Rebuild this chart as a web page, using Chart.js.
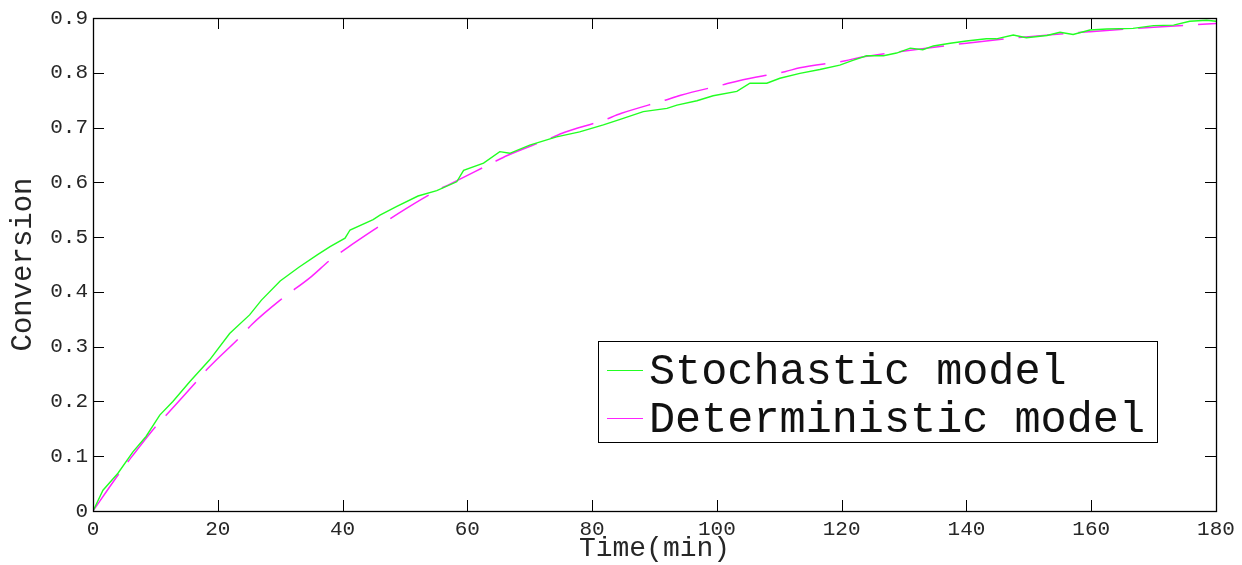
<!DOCTYPE html>
<html>
<head>
<meta charset="utf-8">
<script src="https://cdn.jsdelivr.net/npm/chart.js@4/dist/chart.umd.min.js"></script>
<style>
  html, body { margin: 0; padding: 0; background: #fff; }
  #wrap { width: 1242px; height: 565px; position: relative; }
</style>
</head>
<body>
<div id="wrap"><canvas id="c" width="1242" height="565"></canvas></div>
<script>
// ---- data ----
const stochT = [0,1.6,4,6.4,8.5,10.7,12.8,15.5,18.7,21.9,25.1,27,30,33,36,38,40.4,41.2,44.9,46,48.7,52.1,55.1,58.3,59.4,62.6,65.2,66.8,70,74.3,78,81.8,84.5,88.2,92,93.6,96.8,99.4,103.2,105.3,108,110.1,113.3,116.5,119.7,121.9,124,126.7,128.8,131,133,134.7,137.4,140,143.2,144.8,147.5,149.6,152.9,155,157.1,159.8,162.5,166.7,170,173.2,175.8,178.5,180];
const stochX = [0,0.038,0.069,0.108,0.136,0.175,0.2,0.236,0.276,0.324,0.358,0.385,0.42,0.445,0.468,0.4825,0.498,0.513,0.532,0.54,0.556,0.575,0.585,0.601,0.622,0.635,0.656,0.653,0.668,0.683,0.692,0.705,0.715,0.729,0.735,0.741,0.749,0.758,0.766,0.781,0.781,0.79,0.799,0.806,0.814,0.823,0.831,0.831,0.836,0.845,0.842,0.849,0.854,0.858,0.862,0.862,0.869,0.864,0.868,0.874,0.87,0.878,0.88,0.881,0.886,0.887,0.894,0.896,0.894];

const detT = [0,4.1,5.6,10.1,11.9,16.8,18.4,23.7,25.5,30,35,38,40.8,46.8,48.9,55.1,56.9,64.1,66.4,73,75.5,81.5,84.7,91.7,94.2,101.3,103.7,110.9,113.3,120.6,122.9,130.4,140,150,159.8,170,180];
const detX = [0,0.067,0.09,0.155,0.177,0.239,0.26,0.319,0.341,0.385,0.428,0.458,0.481,0.527,0.543,0.585,0.595,0.636,0.649,0.679,0.691,0.712,0.726,0.75,0.759,0.779,0.786,0.802,0.809,0.822,0.828,0.84,0.854,0.866,0.875,0.883,0.89];

const xTickLabels = ['0','20','40','60','80','100','120','140','160','180'];
const yTickLabels = ['0','0.1','0.2','0.3','0.4','0.5','0.6','0.7','0.8','0.9'];
const seriesNames = ['Stochastic model','Deterministic model'];
const xTitle = 'Time(min)';
const yTitle = 'Conversion';

const FONT = '"Liberation Mono", "Courier New", monospace';
const TXT = '#262626';

const toPts = (ts, xs) => ts.map((t, i) => ({x: t, y: xs[i]}));

const frame = {
  id: 'frame',
  afterDatasetsDraw(chart) {
    const {ctx, chartArea: a, scales} = chart;
    ctx.save();
    ctx.strokeStyle = '#000';
    ctx.lineWidth = 1;
    const tl = 11;
    ctx.beginPath();
    scales.x.ticks.forEach(tk => {
      const px = Math.round(scales.x.getPixelForValue(tk.value)) + 0.5;
      ctx.moveTo(px, a.bottom); ctx.lineTo(px, a.bottom - tl);
      ctx.moveTo(px, a.top); ctx.lineTo(px, a.top + tl);
    });
    scales.y.ticks.forEach(tk => {
      const py = Math.round(scales.y.getPixelForValue(tk.value)) + 0.5;
      ctx.moveTo(a.left, py); ctx.lineTo(a.left + tl, py);
      ctx.moveTo(a.right, py); ctx.lineTo(a.right - tl, py);
    });
    ctx.stroke();
    ctx.lineWidth = 1.3;
    ctx.strokeRect(Math.round(a.left) + 0.5, Math.round(a.top) + 0.5, Math.round(a.right - a.left), Math.round(a.bottom - a.top));
    // legend
    const lx = 598, ly = 341, lw = 559, lh = 101;
    ctx.fillStyle = '#fff';
    ctx.fillRect(lx, ly, lw, lh);
    ctx.lineWidth = 1;
    ctx.strokeStyle = '#000';
    ctx.strokeRect(lx + 0.5, ly + 0.5, lw, lh);
    const ds = chart.data.datasets;
    const rows = [370, 418];
    ctx.font = '43.5px ' + FONT;
    ctx.textBaseline = 'middle';
    ctx.textAlign = 'left';
    ds.forEach((d, i) => {
      ctx.strokeStyle = d.borderColor;
      ctx.lineWidth = 1.2;
      ctx.setLineDash([]);
      ctx.beginPath();
      ctx.moveTo(607, rows[i] + 0.5); ctx.lineTo(643, rows[i] + 0.5);
      ctx.stroke();
      ctx.fillStyle = '#111';
      ctx.fillText(d.label, 649, rows[i] + 2);
    });
    ctx.restore();
  }
};

new Chart(document.getElementById('c'), {
  type: 'line',
  data: {
    datasets: [
      { label: seriesNames[0], data: toPts(stochT, stochX), borderColor: '#22ff22', borderWidth: 1.4, pointRadius: 0, tension: 0, fill: false },
      { label: seriesNames[1], data: toPts(detT, detX), borderColor: '#ff22ff', borderWidth: 1.5, borderDash: [45, 15], pointRadius: 0, cubicInterpolationMode: 'monotone', fill: false }
    ]
  },
  options: {
    responsive: false,
    animation: false,
    devicePixelRatio: 1,
    layout: { padding: { top: 18, right: 26, left: 0, bottom: 0 } },
    plugins: { legend: { display: false }, tooltip: { enabled: false } },
    scales: {
      x: {
        type: 'linear', min: 0, max: 180,
        afterBuildTicks(s) { s.ticks = xTickLabels.map(v => ({value: +v})); },
        afterFit(s) { s.height = 54; },
        grid: { display: false, drawTicks: false },
        border: { display: false },
        ticks: { padding: 6, color: TXT, font: { family: FONT, size: 21 }, maxRotation: 0, autoSkip: false, callback: (v, i) => xTickLabels[i] },
        title: { display: true, text: xTitle, color: TXT, font: { family: FONT, size: 28 }, padding: { top: -3, bottom: 0 } }
      },
      y: {
        type: 'linear', min: 0, max: 0.9,
        afterBuildTicks(s) { s.ticks = yTickLabels.map(v => ({value: +v})); },
        afterFit(s) { s.width = 93; },
        grid: { display: false, drawTicks: false },
        border: { display: false },
        ticks: { padding: 5, color: TXT, font: { family: FONT, size: 21 }, autoSkip: false, callback: (v, i) => yTickLabels[i] },
        title: { display: true, text: yTitle, color: TXT, font: { family: FONT, size: 29 }, padding: { top: 6, bottom: 0 } }
      }
    }
  },
  plugins: [frame]
});
</script>
</body>
</html>
